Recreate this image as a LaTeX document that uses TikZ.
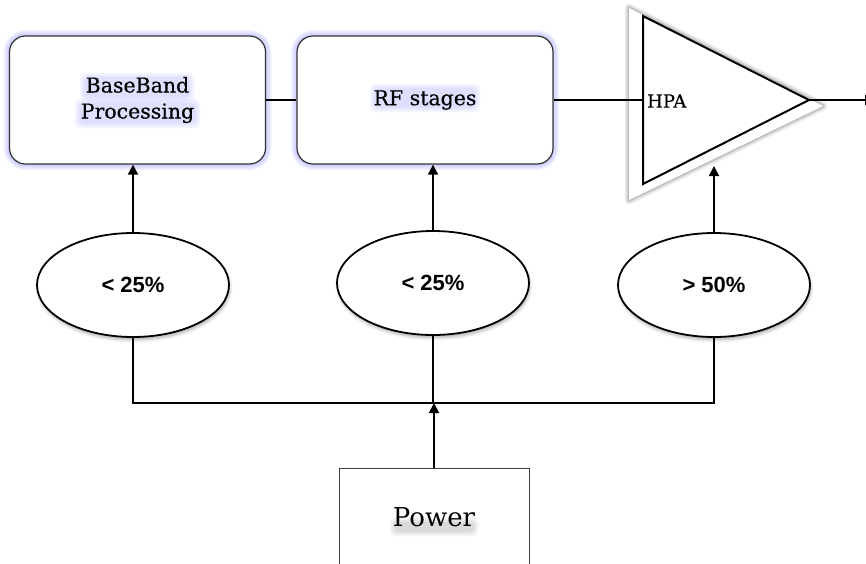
\documentclass[tikz,border=0pt]{standalone}
\usepackage{fontspec}
\setmainfont{DejaVu Serif}
\newfontfamily\slabfont[FakeBold=0.5]{DejaVu Serif}
\newfontfamily\pctfont{Liberation Sans}
\usetikzlibrary{arrows.meta,shapes.geometric,shadows.blur}
\begin{document}
\begin{tikzpicture}[x=1pt,y=-1pt,
  blk/.style={draw=black!80, line width=1.2pt, rounded corners=16pt, fill=white,
    minimum width=256pt, minimum height=128pt, inner sep=0pt, align=center,
    font=\slabfont\fontsize{20.5}{26}\selectfont},
  glow/.style={draw=blue!55!white, rounded corners=16pt, opacity=0.10},
  softglow/.style={fill=blue!60!white, rounded corners=5pt, opacity=0.07},
  softshadow/.style={fill=black, rounded corners=5pt, opacity=0.05},
  pct/.style={ellipse, draw=black, line width=1.8pt, fill=white,
    minimum width=192pt, minimum height=104pt, inner sep=0pt,
    font=\pctfont\bfseries\fontsize{22}{26}\selectfont,
    blur shadow={shadow xshift=1pt, shadow yshift=-3pt, shadow blur radius=3pt, shadow opacity=30}},
  pwr/.style={draw=black!75, line width=1pt, fill=white, minimum width=190pt,
    minimum height=98pt, inner sep=0pt, font=\fontsize{26}{30}\selectfont},
  wire/.style={line width=1.8pt, draw=black},
  arr/.style={wire, -{Triangle[width=10pt,length=10pt]}},
]
\useasboundingbox (0,0) rectangle (866,563);
\clip (0,0) rectangle (866,563);

% glow behind top blocks
\foreach \w in {3,6,9,12}{
  \draw[glow, line width=\w pt] (9.5,36) rectangle (265.5,164);
  \draw[glow, line width=\w pt] (297,36) rectangle (553,164);
}
% top blocks
\node[blk] (bb) at (137.5,100) {};
\node[blk] (rf) at (425,100) {};
% soft lavender glow behind the block texts
\foreach \g in {0,2,4}{
  \fill[softglow] (84-\g,77-\g) rectangle (190+\g,98+\g);
  \fill[softglow] (79-\g,103-\g) rectangle (196+\g,124+\g);
  \fill[softglow] (374-\g,88-\g) rectangle (476+\g,108+\g);
}
\node[inner sep=0pt, align=center, font=\slabfont\fontsize{20.5}{26}\selectfont] (bbt) at (bb.center) {BaseBand\\Processing};
\node[inner sep=0pt, font=\slabfont\fontsize{20.5}{26}\selectfont] (rft) at (rf.center) {RF stages};
\draw[wire] (bb.east) -- (rf.west);

% HPA amplifier (soft grey shadow)
\foreach \w/\o in {9/0.10,6/0.15,3/0.25}{
  \draw[black!60, line width=\w pt, opacity=\o, line join=round] (629,8) -- (629,200) -- (823,106) -- cycle;
}
\fill[white] (629,8) -- (629,200) -- (823,106) -- cycle;
\coordinate (hin) at (643,100);
\coordinate (hapex) at (809,100);
\draw[wire] (rf.east) -- (hin);
\draw[line width=2pt, fill=white, line join=miter] (643,16) -- (643,184) -- (hapex) -- cycle;
\node[anchor=west, font=\slabfont\fontsize{18}{20}\selectfont, inner sep=0pt] (hpa) at (647,101) {HPA};
\coordinate (hout) at (875,100);
\draw[arr] (hapex) -- (hout);
\coordinate (hbot) at (714,166);

% percentages
\node[pct] (e1) at (133,285) {< 25\%};
\node[pct] (e2) at (433,283) {< 25\%};
\node[pct] (e3) at (714,285) {> 50\%};

\draw[arr] (e1.north) -- (e1.north |- bb.south);
\draw[arr] (e2.north) -- (e2.north |- rf.south);
\draw[arr] (e3.north) -- (hbot);

% bus
\coordinate (bus) at (433,403);
\draw[wire] (e1.south) |- (bus) -| (e3.south);
\draw[wire] (e2.south) -- (e2.south |- bus);

% power
\node[pwr] (pw) at (434,517) {};
\foreach \g in {0,2,4}{
  \fill[softshadow] (394-\g,522-\g) rectangle (474+\g,532+\g);
}
\node[inner sep=0pt, font=\fontsize{26}{30}\selectfont] (pwt) at (pw.center) {Power};
\draw[arr] (pw.north) -- (pw.north |- bus);
\end{tikzpicture}
\end{document}
